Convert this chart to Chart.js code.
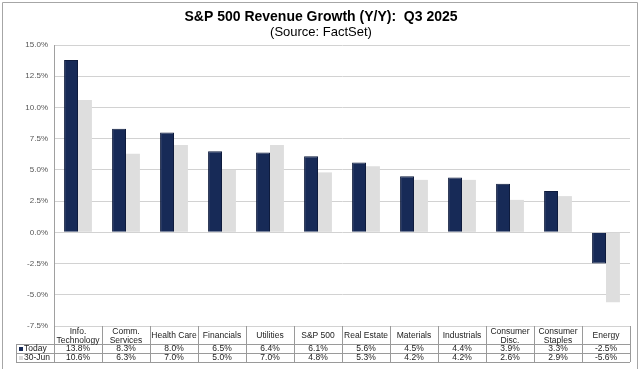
<!DOCTYPE html>
<html>
<head>
<meta charset="utf-8">
<script src="https://cdn.jsdelivr.net/npm/chart.js@4"></script>
<style>
  html, body { margin: 0; padding: 0; background: #fff; }
  #wrap { width: 640px; height: 369px; position: relative; }
</style>
</head>
<body>
<div id="wrap"><canvas id="revChart" width="640" height="369"></canvas></div>
<script>
const categories = [
    ['Info.', 'Technology'], ['Comm.', 'Services'], ['Health Care'], ['Financials'],
    ['Utilities'], ['S&P 500'], ['Real Estate'], ['Materials'], ['Industrials'],
    ['Consumer', 'Disc.'], ['Consumer', 'Staples'], ['Energy']
];
const todayValues = [13.8, 8.3, 8.0, 6.5, 6.4, 6.1, 5.6, 4.5, 4.4, 3.9, 3.3, -2.5];
const juneValues = [10.6, 6.3, 7.0, 5.0, 7.0, 4.8, 5.3, 4.2, 4.2, 2.6, 2.9, -5.6];
const seriesNames = ['Today', '30-Jun'];
const seriesColors = ['#172a57', '#dedede'];

const FONT = 'Arial, "Liberation Sans", sans-serif';

const tablePlugin = {
    id: 'dataTable',
    afterDraw(chart) {
        const ctx = chart.ctx;
        const area = chart.chartArea;
        const x = chart.scales.x;
        const n = categories.length;
        const colW = (area.right - area.left) / n;
        const headTop = area.bottom;
        const row1 = headTop + 18;
        const row2 = row1 + 9;
        const row3 = row2 + 9;
        const labelLeft = 16;

        ctx.save();
        // outer frame (bottom edge runs off the picture)
        ctx.strokeStyle = '#a6a6a6';
        ctx.lineWidth = 1;
        ctx.beginPath();
        ctx.moveTo(2.5, 369);
        ctx.lineTo(2.5, 2.5);
        ctx.lineTo(637.5, 2.5);
        ctx.lineTo(637.5, 369);
        ctx.stroke();

        // titles
        ctx.fillStyle = '#000';
        ctx.textAlign = 'center';
        ctx.textBaseline = 'middle';
        ctx.font = 'bold 14px ' + FONT;
        ctx.fillText('S&P 500 Revenue Growth (Y/Y):  Q3 2025', 321, 17);
        ctx.font = '13px ' + FONT;
        ctx.fillText('(Source: FactSet)', 321, 32);

        // table grid
        ctx.strokeStyle = '#9a9a9a';
        ctx.beginPath();
        for (let i = 0; i <= n; i++) {
            const px = Math.round(area.left + i * colW) + 0.5;
            ctx.moveTo(px, headTop);
            ctx.lineTo(px, row3);
        }
        [row1, row2, row3].forEach(r => {
            ctx.moveTo(labelLeft, r + 0.5);
            ctx.lineTo(area.right, r + 0.5);
        });
        ctx.moveTo(labelLeft + 0.5, row1);
        ctx.lineTo(labelLeft + 0.5, row3);
        ctx.stroke();

        // header labels and values
        ctx.fillStyle = '#222';
        ctx.font = '8.5px ' + FONT;
        categories.forEach((lines, i) => {
            const cx = x.getPixelForValue(i);
            const mid = (headTop + row1) / 2 + 1;
            if (lines.length === 1) {
                ctx.fillText(lines[0], cx, mid);
            } else {
                ctx.fillText(lines[0], cx, mid - 4.5);
                ctx.fillText(lines[1], cx, mid + 4.5);
            }
            ctx.fillText(todayValues[i].toFixed(1) + '%', cx, row1 + 5);
            ctx.fillText(juneValues[i].toFixed(1) + '%', cx, row2 + 5);
        });

        // legend keys
        ctx.textAlign = 'left';
        [row1, row2].forEach((r, k) => {
            ctx.fillStyle = seriesColors[k];
            ctx.fillRect(labelLeft + 3, r + 3, 4, 4);
            ctx.fillStyle = '#222';
            ctx.fillText(seriesNames[k], labelLeft + 8, r + 5);
        });
        ctx.restore();
    }
};

new Chart(document.getElementById('revChart'), {
    type: 'bar',
    data: {
        labels: categories.map(c => c.join(' ')),
        datasets: [
            {
                label: seriesNames[0],
                data: todayValues,
                backgroundColor: seriesColors[0],
                borderColor: '#0e1b3d',
                borderWidth: 1
            },
            {
                label: seriesNames[1],
                data: juneValues,
                backgroundColor: seriesColors[1],
                borderWidth: 0
            }
        ]
    },
    options: {
        responsive: false,
        animation: false,
        maintainAspectRatio: false,
        layout: { padding: { left: 0, right: 10, top: 45, bottom: 43 } },
        datasets: { bar: { categoryPercentage: 0.58, barPercentage: 1 } },
        plugins: {
            legend: { display: false },
            title: { display: false },
            tooltip: { enabled: false }
        },
        scales: {
            x: { display: false },
            y: {
                min: -7.5,
                max: 15,
                ticks: {
                    stepSize: 2.5,
                    color: '#555',
                    font: { family: FONT, size: 8 },
                    padding: 6,
                    callback: v => v.toFixed(1) + '%'
                },
                grid: { color: '#d2d2d2', drawTicks: false },
                border: { display: true, color: '#a0a0a0' },
                afterFit(scale) { scale.width = 54; }
            }
        }
    },
    plugins: [tablePlugin]
});
</script>
</body>
</html>
